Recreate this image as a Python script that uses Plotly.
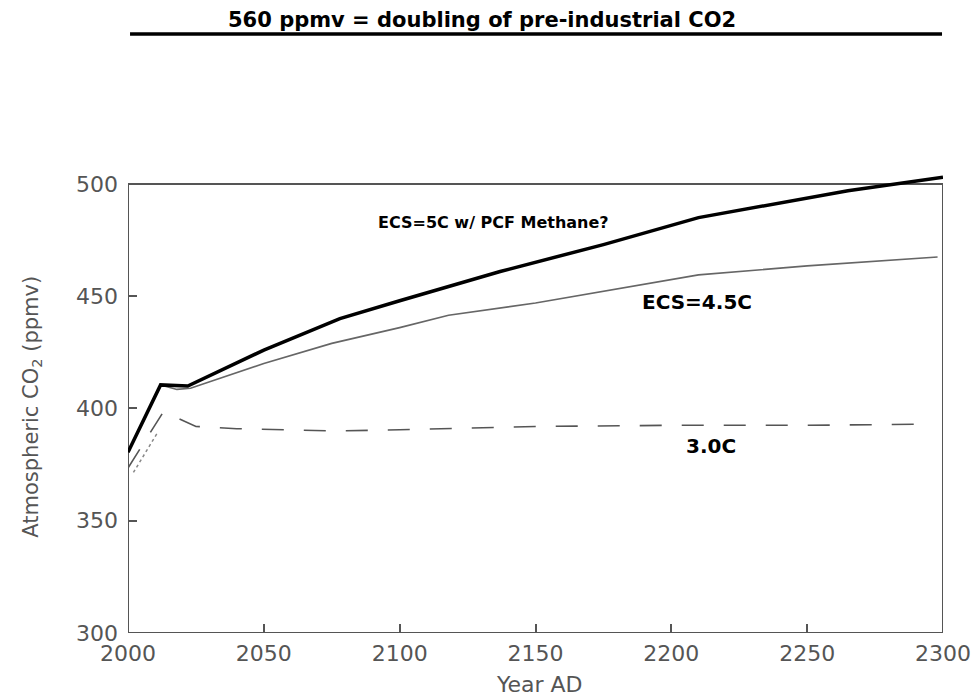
import plotly.graph_objects as go

# ---- data ----
years_pcf = [2000, 2012, 2022, 2050, 2078, 2100, 2137, 2150, 2175, 2210, 2250, 2265, 2300]
co2_pcf = [380.5, 410.5, 410, 426, 440, 448, 461, 465, 473, 485, 494, 497, 503]

years_45 = [2000, 2012, 2018, 2023, 2050, 2075, 2100, 2118, 2150, 2174, 2210, 2250, 2298]
co2_45 = [380.5, 410.5, 408.5, 409, 420, 429, 436, 441.5, 447, 452, 459.5, 463.5, 467.5]

years_30 = [2000, 2013, 2016, 2025, 2040, 2075, 2100, 2150, 2200, 2250, 2292]
co2_30 = [373.5, 398.5, 397, 392, 391, 390, 390.5, 392, 392.5, 392.5, 393]

years_obs = [2002, 2011]
co2_obs = [371.5, 389.5]

x_ticks = [2000, 2050, 2100, 2150, 2200, 2250, 2300]
y_ticks = [300, 350, 400, 450, 500]

title_text = "560 ppmv = doubling of pre-industrial CO2"
label_pcf = "ECS=5C w/ PCF Methane?"
label_45 = "ECS=4.5C"
label_30 = "3.0C"

AX = "#555555"

fig = go.Figure()
fig.add_trace(go.Scatter(x=years_obs, y=co2_obs, mode="lines",
                         line=dict(color="#888888", width=1.5, dash="dot"), hoverinfo="skip"))
fig.add_trace(go.Scatter(x=years_30, y=co2_30, mode="lines",
                         line=dict(color="#555555", width=1.6, dash="22px,20px"), hoverinfo="skip"))
fig.add_trace(go.Scatter(x=years_45, y=co2_45, mode="lines",
                         line=dict(color="#666666", width=1.6), hoverinfo="skip"))
fig.add_trace(go.Scatter(x=years_pcf, y=co2_pcf, mode="lines",
                         line=dict(color="#000000", width=3.5), hoverinfo="skip"))

# plot frame (500 ppmv top, data may exceed it)
fig.add_shape(type="rect", xref="x", yref="y", x0=2000, x1=2300, y0=300, y1=500,
              line=dict(color=AX, width=2), layer="below")

# 560 ppmv reference bar above the chart
fig.add_shape(type="line", xref="paper", yref="paper", x0=0.0025, x1=0.9988, y0=1.2827, y1=1.2827,
              line=dict(color="#000000", width=3.5))
fig.add_annotation(xref="paper", yref="paper", x=0.434, y=1.3126, text="<b>" + title_text + "</b>",
                   showarrow=False, font=dict(family="DejaVu Sans", size=21, color="#000000"),
                   xanchor="center", yanchor="middle")

fig.add_annotation(xref="x", yref="y", x=2134.5, y=483, text="<b>" + label_pcf + "</b>",
                   showarrow=False, font=dict(family="DejaVu Sans", size=16, color="#000000"))
fig.add_annotation(xref="x", yref="y", x=2209.3, y=447.4, text="<b>" + label_45 + "</b>",
                   showarrow=False, font=dict(family="DejaVu Sans", size=20, color="#000000"))
fig.add_annotation(xref="x", yref="y", x=2214.6, y=383.3, text="<b>" + label_30 + "</b>",
                   showarrow=False, font=dict(family="DejaVu Sans", size=20, color="#000000"))

# axis titles
fig.add_annotation(xref="paper", yref="y", x=-0.118, y=400.7, text="Atmospheric CO<sub>2</sub> (ppmv)",
                   textangle=-90, showarrow=False, xanchor="center", yanchor="middle",
                   font=dict(family="DejaVu Sans", size=21, color=AX))
fig.add_annotation(xref="x", yref="paper", x=2151.5, y=-0.111, text="Year AD",
                   showarrow=False, xanchor="center", yanchor="middle",
                   font=dict(family="DejaVu Sans", size=22, color=AX))

fig.update_xaxes(range=[2000, 2300], tickvals=x_ticks, ticks="inside", ticklen=9, tickwidth=1.5,
                 tickcolor=AX, showline=False, showgrid=False, zeroline=False, automargin=False,
                 ticklabelstandoff=5,
                 tickfont=dict(family="DejaVu Sans", size=22, color=AX))
fig.update_yaxes(range=[300, 508], tickvals=y_ticks, ticks="inside", ticklen=9, tickwidth=1.5,
                 tickcolor=AX, showline=False, showgrid=False, zeroline=False, automargin=False,
                 ticklabelstandoff=9,
                 tickfont=dict(family="DejaVu Sans", size=22, color=AX))

fig.update_layout(width=978, height=697, margin=dict(l=128, r=35, t=166, b=64, autoexpand=False),
                  plot_bgcolor="white", paper_bgcolor="white", showlegend=False)

fig.write_html("out.html")
